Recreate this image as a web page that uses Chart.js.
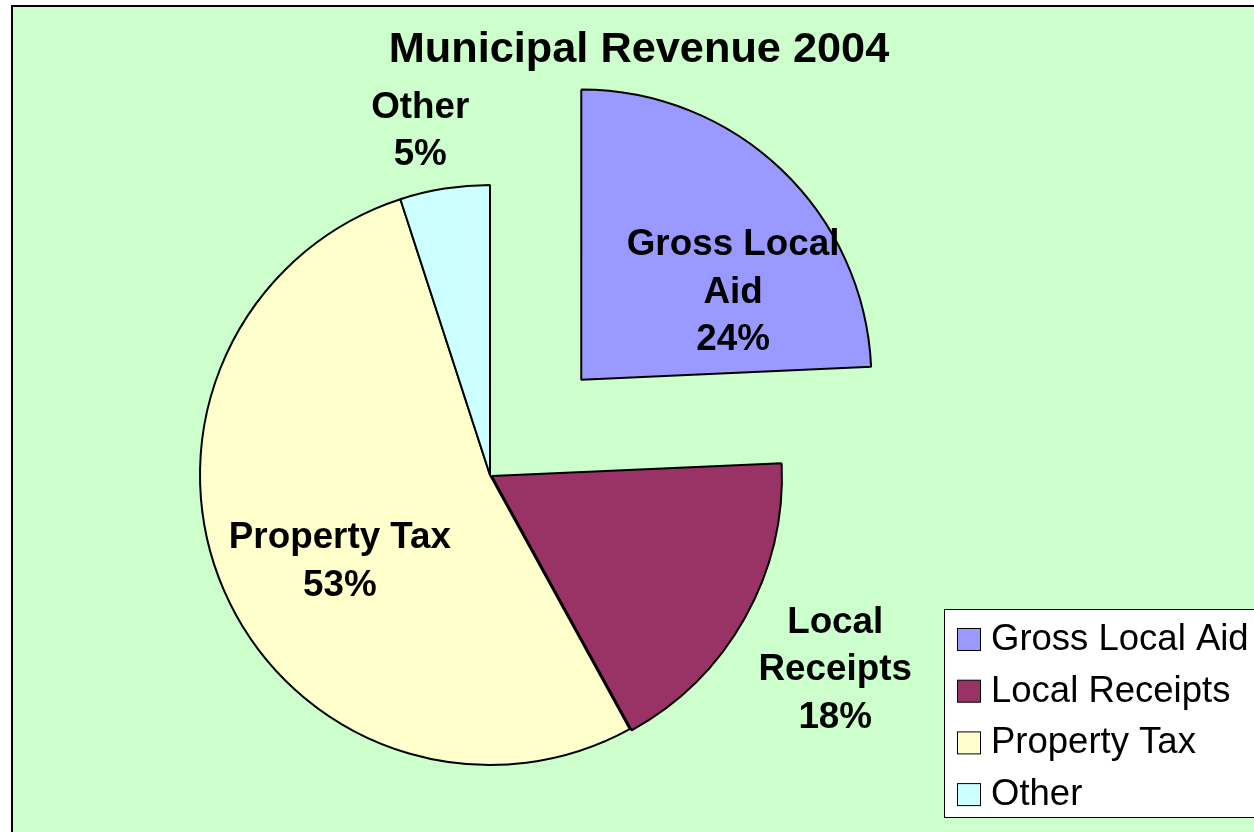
<!DOCTYPE html>
<html>
<head>
<meta charset="utf-8">
<title>Municipal Revenue 2004</title>
<script src="https://cdn.jsdelivr.net/npm/chart.js@4.4.1/dist/chart.umd.min.js"></script>
<style>
  html, body { margin: 0; padding: 0; background: #fff; }
  canvas { display: block; }
</style>
</head>
<body>
<canvas id="revenue-chart" width="1254" height="832"></canvas>
<script>
var titleText = 'Municipal Revenue 2004';
var categories = ['Gross Local Aid', 'Local Receipts', 'Property Tax', 'Other'];
var shares = [24.3, 17.7, 53, 5];
var sliceColors = ['#9999FF', '#993366', '#FFFFCC', '#CCFFFF'];

var FONT = "'Liberation Sans', Arial, Helvetica, sans-serif";

// where each data label sits: [radius factor, angle tweak in degrees]
var labelPlace = [[0.608, 15.7], [1.356, -0.2], [0.594, -6], [1.217, -2.4]];

function wrapText(ctx, text, maxWidth) {
    var words = text.split(' ');
    var lines = [];
    var line = '';
    words.forEach(function (w) {
        var test = line ? line + ' ' + w : w;
        if (line && ctx.measureText(test).width > maxWidth) {
            lines.push(line);
            line = w;
        } else {
            line = test;
        }
    });
    if (line) lines.push(line);
    return lines;
}

var framePlugin = {
    id: 'frame',
    beforeDraw: function (chart) {
        var ctx = chart.ctx;
        ctx.save();
        ctx.fillStyle = '#ffffff';
        ctx.fillRect(0, 0, chart.width, chart.height);
        ctx.fillStyle = '#CCFFCC';
        ctx.fillRect(13, 7, chart.width - 13, chart.height - 7);
        ctx.strokeStyle = '#000';
        ctx.lineWidth = 2;
        ctx.beginPath();
        ctx.moveTo(12, chart.height);
        ctx.lineTo(12, 6);
        ctx.lineTo(chart.width, 6);
        ctx.stroke();
        ctx.restore();
    },
    afterDraw: function (chart) {
        var ctx = chart.ctx;
        ctx.save();

        // title
        ctx.fillStyle = '#000';
        ctx.font = 'bold 43.3px ' + FONT;
        ctx.textAlign = 'center';
        ctx.textBaseline = 'alphabetic';
        ctx.fillText(titleText, 639, 62);

        // data labels
        var meta = chart.getDatasetMeta(0);
        var data = chart.data.datasets[0].data;
        var total = data.reduce(function (a, b) { return a + b; }, 0);
        ctx.font = 'bold 36.8px ' + FONT;
        ctx.textBaseline = 'middle';
        meta.data.forEach(function (arc, i) {
            var p = arc.getProps(['x', 'y', 'startAngle', 'endAngle', 'outerRadius'], true);
            var mid = (p.startAngle + p.endAngle) / 2;
            var off = (arc.options.offset || 0) / 4;
            var cx = p.x + Math.cos(mid) * off;
            var cy = p.y + Math.sin(mid) * off;
            var a = mid + labelPlace[i][1] * Math.PI / 180;
            var r = p.outerRadius * labelPlace[i][0];
            var lx = cx + Math.cos(a) * r;
            var ly = cy + Math.sin(a) * r + 2.5;
            var lines = wrapText(ctx, chart.data.labels[i], 235);
            lines.push(Math.round(data[i] / total * 100) + '%');
            var lh = 47.5;
            var y0 = ly - (lines.length - 1) * lh / 2;
            lines.forEach(function (t, k) {
                ctx.fillText(t, lx, y0 + k * lh);
            });
        });

        // legend
        var lx0 = 944.5, ly0 = 609.5;
        ctx.fillStyle = '#ffffff';
        ctx.fillRect(lx0, ly0, chart.width - lx0 + 2, 208);
        ctx.strokeStyle = '#000';
        ctx.lineWidth = 1;
        ctx.strokeRect(lx0, ly0, chart.width - lx0 + 2, 208);
        ctx.font = '36.5px ' + FONT;
        ctx.textAlign = 'left';
        ctx.textBaseline = 'alphabetic';
        chart.data.labels.forEach(function (name, i) {
            var base = 650 + i * 51.7;
            ctx.fillStyle = sliceColors[i];
            ctx.fillRect(957.5, base - 21.5, 23, 22);
            ctx.strokeStyle = '#000';
            ctx.strokeRect(957.5, base - 21.5, 23, 22);
            ctx.fillStyle = '#000';
            ctx.fillText(name, 991, base);
        });

        ctx.restore();
    }
};

var ctx = document.getElementById('revenue-chart').getContext('2d');
var revenueChart = new Chart(ctx, {
    type: 'pie',
    data: {
        labels: categories,
        datasets: [{
            data: shares,
            backgroundColor: sliceColors,
            borderColor: '#000000',
            borderWidth: 2,
            offset: [528, 8, 0, 0],
            radius: 290
        }]
    },
    options: {
        responsive: false,
        animation: false,
        events: [],
        layout: {
            padding: { top: 118, bottom: 0, left: 0, right: 274 }
        },
        plugins: {
            legend: { display: false },
            title: { display: false },
            tooltip: { enabled: false }
        }
    },
    plugins: [framePlugin]
});
</script>
</body>
</html>
